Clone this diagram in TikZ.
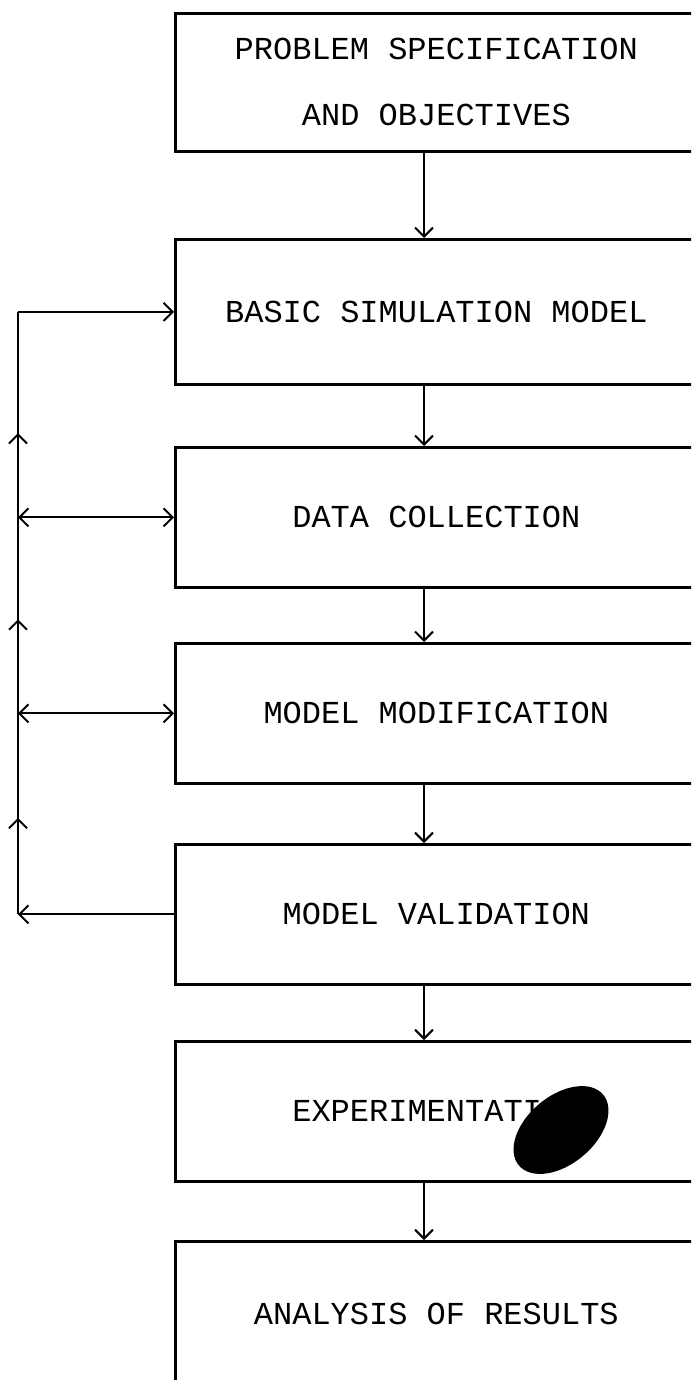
\documentclass[tikz,border=0pt]{standalone}
\usepackage{fontspec}
\newfontfamily\typewriter{Liberation Mono}
\usetikzlibrary{arrows.meta, calc}
\newcommand{\stagefont}{\typewriter\fontsize{32}{66}\selectfont}
\tikzstyle{stage} = [rectangle, draw=black, line width=2.7pt, anchor=north west, minimum height=140pt, text width=560pt, inner sep=0pt, align=left, font=\stagefont]
\tikzstyle{arrow} = [line width=2pt, -{Straight Barb[length=9pt, width=18pt]}]
\tikzstyle{both} = [line width=2pt, {Straight Barb[length=9pt, width=18pt]}-{Straight Barb[length=9pt, width=18pt]}]
\tikzstyle{line} = [line width=2pt]
\newcommand{\stagetext}[1]{\makebox[522pt]{\spaceskip=19.2pt\relax #1}}

\begin{document}
\begin{tikzpicture}[x=1pt, y=-1pt]
\useasboundingbox (0,0) rectangle (691,1380);
\clip (0,0) rectangle (691,1380);

%% NODES
\node (spec) [stage, minimum height=138pt] at (174,12) {\stagetext{PROBLEM SPECIFICATION}\\\stagetext{AND OBJECTIVES}};
\node (basic) [stage, minimum height=145pt] at (174,238) {\stagetext{BASIC SIMULATION MODEL}};
\node (data) [stage] at (174,446) {\stagetext{DATA COLLECTION}};
\node (mod) [stage] at (174,642) {\stagetext{MODEL MODIFICATION}};
\node (valid) [stage] at (174,843) {\stagetext{MODEL VALIDATION}};
\node (exper) [stage] at (174,1040) {\stagetext{EXPERIMENTATION}};
\node (analysis) [stage, minimum height=146pt] at (174,1240) {\stagetext{ANALYSIS OF RESULTS}};

%% ink blot on the scan
\fill [rotate around={40:(561,1130)}] (561,1130) ellipse [x radius=55, y radius=34];

%% COORDINATES
\coordinate (mid) at (424,0);
\coordinate (rail) at (18,0);
\coordinate (r2) at (basic.west -| rail);
\coordinate (r3) at (data.west -| rail);
\coordinate (r4) at (mod.west -| rail);
\coordinate (r5) at (valid.west -| rail);

%% ARROWS
\draw [arrow] (spec.south -| mid) -- (basic.north -| mid);
\draw [arrow] (basic.south -| mid) -- (data.north -| mid);
\draw [arrow] (data.south -| mid) -- (mod.north -| mid);
\draw [arrow] (mod.south -| mid) -- (valid.north -| mid);
\draw [arrow] (valid.south -| mid) -- (exper.north -| mid);
\draw [arrow] (exper.south -| mid) -- (analysis.north -| mid);

\draw [line] (r5) -- (r2);
\draw [arrow] (r5) -- ($(r5)!0.48!(r4)$);
\draw [arrow] (r4) -- ($(r4)!0.48!(r3)$);
\draw [arrow] (r3) -- ($(r3)!0.41!(r2)$);
\draw [arrow] (r2) -- (basic.west);
\draw [both] (r3) -- (data.west);
\draw [both] (r4) -- (mod.west);
\draw [arrow] (valid.west) -- (r5);
\end{tikzpicture}
\end{document}
